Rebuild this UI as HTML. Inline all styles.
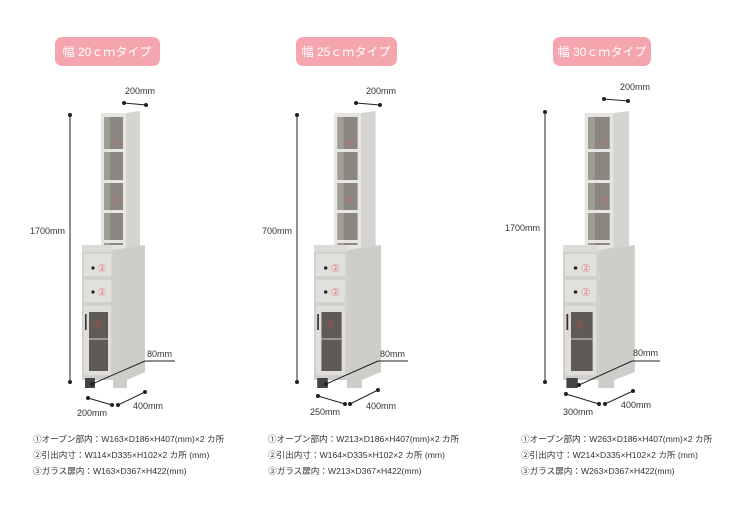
<!DOCTYPE html>
<html><head><meta charset="utf-8"><style>
body{margin:0;background:#fff;width:750px;height:500px;overflow:hidden;font-family:"Liberation Sans","Noto Sans CJK JP",sans-serif}
</style></head><body>
<svg width="750" height="500" xmlns="http://www.w3.org/2000/svg" font-family="Liberation Sans, Noto Sans CJK JP, sans-serif">
<defs>
<g id="cab">
  <polygon points="44,113 58,111 58,250 44,250" fill="#d6d4d0"/>
  <rect x="19" y="113" width="25" height="137" fill="#e6e4e0"/>
  <rect x="22" y="117" width="19" height="128" fill="#8a8680"/>
  <rect x="22" y="117" width="6" height="128" fill="#a09c96"/>
  <rect x="21" y="149" width="22" height="3" fill="#e8e6e2"/>
  <rect x="21" y="180" width="22" height="3" fill="#e8e6e2"/>
  <rect x="21" y="210" width="22" height="3" fill="#e8e6e2"/>
  <rect x="21" y="240" width="22" height="3" fill="#e8e6e2"/>
  <text x="31" y="146" font-size="8" fill="#d66">①</text>
  <text x="31" y="203" font-size="8" fill="#d66">①</text>
  <polygon points="31,250 63,245 63,372 45,380 45,388 31,388" fill="#cfcdc9"/>
  <rect x="0" y="245" width="31" height="6" fill="#dddbd7"/>
  <rect x="0" y="251" width="31" height="126" fill="#dcdad6"/>
  <rect x="1" y="253" width="29" height="24" fill="#e2e0dc" stroke="#b8b6b2" stroke-width="0.6"/>
  <rect x="1" y="279" width="29" height="24" fill="#e2e0dc" stroke="#b8b6b2" stroke-width="0.6"/>
  <circle cx="11" cy="268" r="1.6" fill="#222"/>
  <circle cx="11" cy="292" r="1.6" fill="#222"/>
  <text x="16" y="271" font-size="8" fill="#d55">②</text>
  <text x="16" y="295" font-size="8" fill="#d55">②</text>
  <rect x="1" y="305" width="29" height="71" fill="#e0deda" stroke="#b8b6b2" stroke-width="0.6"/>
  <rect x="7" y="312" width="19" height="59" fill="#5e5b56"/>
  <rect x="7" y="338" width="19" height="2" fill="#9a9790"/>
  <text x="11" y="328" font-size="8" fill="#d44">③</text>
  <rect x="3" y="314" width="1.6" height="16" fill="#333"/>
  <rect x="0" y="377" width="31" height="3" fill="#cfcdc9"/>
  <rect x="3" y="378" width="10" height="10" fill="#444"/>
</g>
</defs>
<rect x="55" y="37" width="105" height="29" rx="7" fill="#f5a5ae"/>
<text x="107" y="56" font-size="12" fill="#fff" text-anchor="middle">幅 20ｃｍタイプ</text>
<rect x="296" y="37" width="101" height="29" rx="7" fill="#f5a5ae"/>
<text x="346" y="56" font-size="12" fill="#fff" text-anchor="middle">幅 25ｃｍタイプ</text>
<rect x="553" y="37" width="98" height="29" rx="7" fill="#f5a5ae"/>
<text x="602" y="56" font-size="12" fill="#fff" text-anchor="middle">幅 30ｃｍタイプ</text>

<use href="#cab" transform="translate(82,0)"/>
<use href="#cab" transform="translate(314,0) scale(1.063,1)"/>
<use href="#cab" transform="translate(563,0) scale(1.14,1)"/>

<g stroke="#222" stroke-width="1" fill="#222" font-size="9">
<line x1="70" y1="115" x2="70" y2="382"/><circle cx="70" cy="115" r="1.5"/><circle cx="70" cy="382" r="1.5"/>
<line x1="124" y1="103" x2="146" y2="105"/><circle cx="124" cy="103" r="1.5"/><circle cx="146" cy="105" r="1.5"/>
<line x1="92" y1="384" x2="145" y2="361"/><line x1="145" y1="361" x2="175" y2="361"/><circle cx="92" cy="384" r="1.5"/>
<line x1="88" y1="398" x2="112" y2="405"/><circle cx="88" cy="398" r="1.5"/><circle cx="112" cy="405" r="1.5"/>
<line x1="118" y1="405" x2="145" y2="392"/><circle cx="118" cy="405" r="1.5"/><circle cx="145" cy="392" r="1.5"/>
<line x1="297" y1="115" x2="297" y2="382"/><circle cx="297" cy="115" r="1.5"/><circle cx="297" cy="382" r="1.5"/>
<line x1="356" y1="103" x2="380" y2="105"/><circle cx="356" cy="103" r="1.5"/><circle cx="380" cy="105" r="1.5"/>
<line x1="326" y1="384" x2="378" y2="361"/><line x1="378" y1="361" x2="408" y2="361"/><circle cx="326" cy="384" r="1.5"/>
<line x1="318" y1="396" x2="345" y2="404"/><circle cx="318" cy="396" r="1.5"/><circle cx="345" cy="404" r="1.5"/>
<line x1="350" y1="404" x2="378" y2="390"/><circle cx="350" cy="404" r="1.5"/><circle cx="378" cy="390" r="1.5"/>
<line x1="545" y1="112" x2="545" y2="382"/><circle cx="545" cy="112" r="1.5"/><circle cx="545" cy="382" r="1.5"/>
<line x1="604" y1="99" x2="628" y2="101"/><circle cx="604" cy="99" r="1.5"/><circle cx="628" cy="101" r="1.5"/>
<line x1="579" y1="385" x2="632" y2="361"/><line x1="632" y1="361" x2="660" y2="361"/><circle cx="579" cy="385" r="1.5"/>
<line x1="566" y1="394" x2="599" y2="404"/><circle cx="566" cy="394" r="1.5"/><circle cx="599" cy="404" r="1.5"/>
<line x1="605" y1="404" x2="633" y2="391"/><circle cx="605" cy="404" r="1.5"/><circle cx="633" cy="391" r="1.5"/>
</g>
<g font-size="9" fill="#333">
<text x="30" y="234">1700mm</text>
<text x="125" y="94">200mm</text>
<text x="147" y="357">80mm</text>
<text x="77" y="416">200mm</text>
<text x="133" y="409">400mm</text>
<text x="262" y="234">700mm</text>
<text x="366" y="94">200mm</text>
<text x="380" y="357">80mm</text>
<text x="310" y="415">250mm</text>
<text x="366" y="409">400mm</text>
<text x="505" y="231">1700mm</text>
<text x="620" y="90">200mm</text>
<text x="633" y="356">80mm</text>
<text x="563" y="415">300mm</text>
<text x="621" y="408">400mm</text>
</g>
<g font-size="8.6" fill="#333">
<text x="33" y="442">①オープン部内：W163×D186×H407(mm)×2 カ所</text>
<text x="33" y="458">②引出内寸：W114×D335×H102×2 カ所 (mm)</text>
<text x="33" y="474">③ガラス扉内：W163×D367×H422(mm)</text>
<text x="268" y="442">①オープン部内：W213×D186×H407(mm)×2 カ所</text>
<text x="268" y="458">②引出内寸：W164×D335×H102×2 カ所 (mm)</text>
<text x="268" y="474">③ガラス扉内：W213×D367×H422(mm)</text>
<text x="521" y="442">①オープン部内：W263×D186×H407(mm)×2 カ所</text>
<text x="521" y="458">②引出内寸：W214×D335×H102×2 カ所 (mm)</text>
<text x="521" y="474">③ガラス扉内：W263×D367×H422(mm)</text>
</g>
</svg>
</body></html>
